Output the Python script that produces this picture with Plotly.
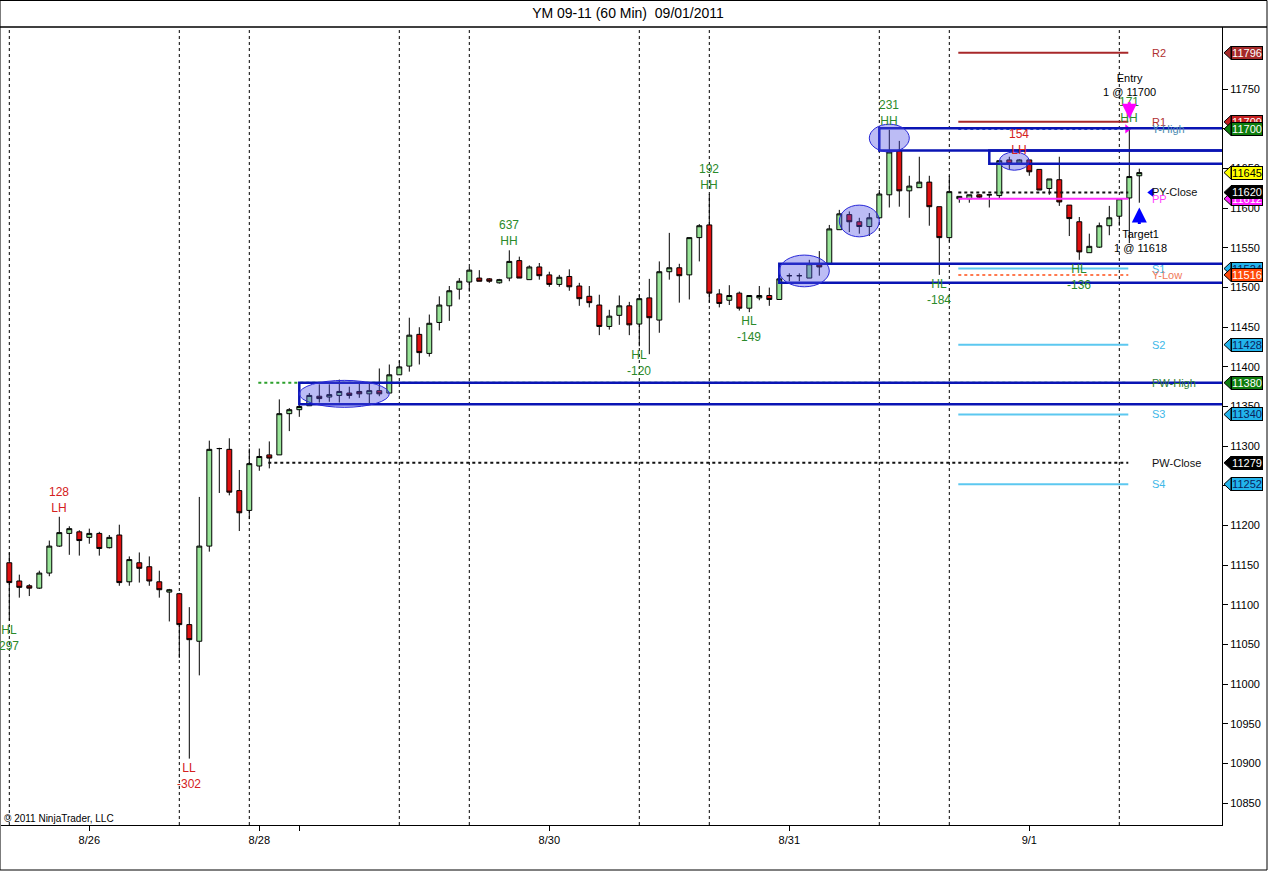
import plotly.graph_objects as go

# YM 09-11, 60 minute bars, 8/26 - 9/1
bar_open = [11153, 11130, 11124, 11121, 11140, 11174, 11190, 11192, 11185, 11190,
            11172, 11188, 11129, 11153, 11148, 11129, 11116, 11114, 11075, 11054,
            11174, 11297, 11296, 11244, 11219, 11275, 11289, 11289, 11341, 11346,
            11351, 11363, 11362, 11364, 11367, 11369, 11366, 11370, 11367, 11390,
            11401, 11441, 11417, 11456, 11477, 11498, 11507, 11512, 11511, 11506,
            11512, 11534, 11510, 11526, 11516, 11504, 11514, 11502, 11489, 11478,
            11451, 11465, 11477, 11454, 11487, 11459, 11520, 11525, 11516, 11563,
            11579, 11492, 11484, 11493, 11474, 11487, 11490, 11485, 11515, 11515,
            11512, 11530, 11530, 11573, 11592, 11583, 11577, 11588, 11617, 11673,
            11622, 11626, 11633, 11602, 11563, 11612, 11612, 11617, 11617, 11616,
            11661, 11657, 11661, 11649, 11625, 11636, 11604, 11583, 11544, 11551,
            11578, 11590, 11613, 11641]
bar_high = [11166, 11138, 11126, 11143, 11181, 11211, 11199, 11194, 11196, 11192,
            11188, 11201, 11161, 11166, 11161, 11143, 11120, 11115, 11097, 11236,
            11307, 11298, 11310, 11270, 11297, 11297, 11306, 11359, 11348, 11352,
            11367, 11378, 11378, 11384, 11375, 11380, 11380, 11398, 11403, 11408,
            11462, 11450, 11466, 11489, 11502, 11512, 11526, 11522, 11512, 11511,
            11547, 11539, 11528, 11531, 11520, 11516, 11523, 11506, 11502, 11491,
            11472, 11490, 11482, 11491, 11511, 11533, 11569, 11530, 11563, 11580,
            11618, 11498, 11503, 11495, 11490, 11502, 11500, 11511, 11518, 11518,
            11535, 11546, 11579, 11598, 11596, 11588, 11594, 11623, 11699, 11685,
            11641, 11665, 11641, 11602, 11641, 11615, 11617, 11618, 11617, 11660,
            11665, 11662, 11661, 11649, 11637, 11665, 11604, 11589, 11568, 11582,
            11603, 11612, 11702, 11650]
bar_low = [11080, 11109, 11111, 11120, 11136, 11173, 11163, 11162, 11177, 11162,
           11171, 11124, 11124, 11128, 11124, 11109, 11079, 11033, 10906, 11011,
           11167, 11241, 11238, 11193, 11208, 11269, 11272, 11289, 11319, 11337,
           11351, 11355, 11356, 11355, 11360, 11361, 11352, 11363, 11367, 11390,
           11394, 11403, 11413, 11446, 11458, 11485, 11495, 11508, 11506, 11505,
           11508, 11512, 11510, 11510, 11501, 11501, 11496, 11477, 11475, 11440,
           11447, 11453, 11440, 11426, 11416, 11443, 11510, 11481, 11485, 11533,
           11481, 11475, 11478, 11471, 11469, 11484, 11477, 11485, 11508, 11508,
           11512, 11515, 11530, 11573, 11570, 11568, 11565, 11588, 11601, 11602,
           11588, 11626, 11578, 11516, 11558, 11607, 11607, 11612, 11601, 11612,
           11649, 11655, 11641, 11623, 11617, 11603, 11565, 11535, 11544, 11550,
           11566, 11578, 11556, 11607]
bar_close = [11128, 11122, 11121, 11140, 11174, 11191, 11196, 11181, 11190, 11171,
             11185, 11128, 11157, 11146, 11130, 11119, 11119, 11075, 11056, 11174,
             11296, 11297, 11242, 11216, 11278, 11287, 11285, 11341, 11346, 11350,
             11364, 11360, 11365, 11369, 11364, 11366, 11370, 11366, 11390, 11400,
             11440, 11418, 11455, 11478, 11496, 11508, 11522, 11508, 11508, 11510,
             11533, 11512, 11526, 11515, 11504, 11513, 11501, 11486, 11481, 11451,
             11464, 11477, 11453, 11486, 11462, 11520, 11525, 11515, 11563, 11578,
             11493, 11480, 11490, 11474, 11490, 11490, 11485, 11511, 11515, 11515,
             11530, 11526, 11574, 11593, 11583, 11577, 11588, 11618, 11671, 11622,
             11628, 11633, 11602, 11563, 11621, 11615, 11617, 11614, 11617, 11660,
             11656, 11661, 11646, 11623, 11637, 11608, 11587, 11545, 11552, 11578,
             11588, 11612, 11640, 11645]
bars = list(range(len(bar_open)))

session_bars = [0, 17, 24, 39, 46, 63, 70, 87, 94, 111]
date_ticks = [8, 25, 29, 54, 78, 102]
date_labels = ["8/26", "8/28", "", "8/30", "8/31", "9/1"]
price_ticks = list(range(10850, 11751, 50))

# pivots drawn by the indicator
pivot_names = ["R2", "R1", "Y-High", "PY-Close", "PP", "S1", "Y-Low", "S2",
               "PW-High", "S3", "PW-Close", "S4"]
pivot_levels = [11796, 11709, 11700, 11620, 11612, 11524, 11516, 11428,
                11380, 11340, 11279, 11252]
pivot_start = [95, 95, 95, 95, 95, 95, 95, 95, 25, 95, 26, 95]
pivot_end = 112
pivot_colors = ["#a8282a", "#a8282a", "#2a5fc0", "#111111", "#ff30ff", "#5cc8f0",
                "#ff7a50", "#5cc8f0", "#2ca02c", "#5cc8f0", "#111111", "#5cc8f0"]
pivot_dash = ["solid", "solid", "dot", "dot", "solid", "solid", "dot", "solid",
              "dot", "solid", "dot", "solid"]
label_colors = ["#b03030", "#b03030", "#4a8ab0", "#111111", "#ff40ff", "#40b8e8",
                "#f07a5a", "#40b8e8", "#2e7d32", "#40b8e8", "#111111", "#40b8e8"]

# price markers on the right axis (drawn in this order)
tag_prices = [11796, 11709, 11700, 11645, 11612, 11620, 11524, 11516, 11428,
              11380, 11340, 11279, 11252]
tag_fill = ["#a52a2a", "#c42020", "#0f7d0f", "#ffff00", "#ff20ff", "#000000",
            "#22b4ec", "#ff4a0a", "#22b4ec", "#0f7d0f", "#22b4ec", "#000000",
            "#22b4ec"]
tag_font = ["white", "white", "white", "black", "white", "white", "#0a1f5c",
            "white", "#0a1f5c", "white", "#0a1f5c", "white", "#0a1f5c"]

# swing labels
swing_bar = [0, 5, 18, 50, 63, 70, 74, 88, 93, 101, 107, 112]
swing_kind = ["HL", "LH", "LL", "HH", "HL", "HH", "HL", "HH", "HL", "LH", "HL", "HH"]
swing_size = ["297", "128", "-302", "637", "-120", "192", "-149", "231", "-184",
              "154", "-136", "171"]

# hand drawn zones: (first bar, low, high)
box_start = [29, 77, 87, 98]
box_low = [11353, 11506, 11673, 11656]
box_high = [11380, 11530, 11701, 11673]
# ellipses: (bar from, bar to, low, high)
ell_x0 = [29, 77, 83, 86, 99]
ell_x1 = [38, 82, 87, 90, 102]
ell_low = [11349, 11501, 11564, 11671, 11648]
ell_high = [11383, 11541, 11604, 11706, 11671]

FONT = "Liberation Sans, Arial, sans-serif"

fig = go.Figure()
fig.add_trace(go.Candlestick(
    x=bars, open=bar_open, high=bar_high, low=bar_low, close=bar_close,
    increasing=dict(fillcolor="#98e498", line=dict(color="black", width=1)),
    decreasing=dict(fillcolor="#e01010", line=dict(color="black", width=1)),
    whiskerwidth=0, hoverinfo="skip", showlegend=False))

# entry / exit markers
exec_x = [111.8, 114.2]
exec_y = [11700, 11620]
fig.add_trace(go.Scatter(
    x=exec_x, y=exec_y, mode="markers", showlegend=False, hoverinfo="skip",
    marker=dict(symbol=["triangle-right", "triangle-left"], size=8,
                color=["#ff00ff", "#0000ff"])))

shapes = []
for b in session_bars:
    shapes.append(dict(type="line", xref="x", yref="paper", x0=b, x1=b, y0=0, y1=1,
                       line=dict(color="black", width=1, dash="dot"), layer="below"))

for name, lvl, s, col, dsh in zip(pivot_names, pivot_levels, pivot_start,
                                   pivot_colors, pivot_dash):
    shapes.append(dict(type="line", xref="x", yref="y", x0=s - 0.1, x1=pivot_end - 0.1,
                       y0=lvl, y1=lvl, line=dict(color=col, width=2, dash=dsh),
                       layer="above"))

for b, lo, hi in zip(box_start, box_low, box_high):
    shapes.append(dict(type="rect", xref="x", yref="y", x0=b, x1=140, y0=lo, y1=hi,
                       line=dict(color="#0a14b4", width=2.5), layer="above"))

for a, b, lo, hi in zip(ell_x0, ell_x1, ell_low, ell_high):
    shapes.append(dict(type="circle", xref="x", yref="y", x0=a, x1=b, y0=lo, y1=hi,
                       fillcolor="rgba(80,80,230,0.38)",
                       line=dict(color="#2828d8", width=1), layer="above"))

# price tag pointers
tip, base = (1224 - 1) / 1221, (1231 - 1) / 1221
for p, c in zip(tag_prices, tag_fill):
    shapes.append(dict(type="path", xref="paper", yref="y",
                       path=f"M {tip},{p} L {base},{p + 8.2} L {base},{p - 8.2} Z",
                       fillcolor=c, line=dict(color="black", width=1), layer="above"))

# frame
shapes.append(dict(type="rect", xref="paper", yref="paper",
                   x0=-0.0008, x1=(1267 - 1) / 1221, y0=(825 - 870) / 798,
                   y1=(825 - 0.5) / 798, line=dict(color="black", width=1)))
shapes.append(dict(type="line", xref="paper", yref="paper", x0=-0.001,
                   x1=(1267 - 1) / 1221, y0=1, y1=1,
                   line=dict(color="black", width=1.5)))

ann = []
for b, k, sz in zip(swing_bar, swing_kind, swing_size):
    col = "#2a8a2a" if k in ("HH", "HL") else "#d42020"
    if k in ("HH", "LH"):
        ann.append(dict(x=b, y=bar_high[b], text=f"{sz}<br>{k}", yanchor="bottom",
                        showarrow=False, font=dict(color=col, size=12)))
    else:
        ann.append(dict(x=b, y=bar_low[b], text=f"{k}<br>{sz}", yanchor="top",
                        showarrow=False, font=dict(color=col, size=12)))

for name, lvl, col in zip(pivot_names, pivot_levels, label_colors):
    ann.append(dict(x=114.1, y=lvl, text=name, xanchor="left", yanchor="middle",
                    showarrow=False, font=dict(color=col, size=11)))

for p, c, fc in zip(tag_prices, tag_fill, tag_font):
    ann.append(dict(xref="paper", x=(1246.5 - 1) / 1221, xanchor="center", y=p,
                    yanchor="middle", text=str(p), showarrow=False, bgcolor=c,
                    bordercolor="black", borderwidth=1, borderpad=0, width=30,
                    height=12, font=dict(color=fc, size=11)))

ann.append(dict(x=112, y=11736, text="Entry<br>1 @ 11700", yanchor="bottom",
                showarrow=False, font=dict(color="black", size=11)))
ann.append(dict(x=113.1, y=11578, text="Target1<br>1 @ 11618", yanchor="top",
                showarrow=False, font=dict(color="black", size=11)))
ann.append(dict(x=112, y=11713, ax=0, ay=-18, text="", showarrow=True, arrowhead=2,
                arrowsize=1, arrowwidth=3, arrowcolor="#ff00ff"))
ann.append(dict(x=113, y=11601, ax=0, ay=18, text="", showarrow=True, arrowhead=2,
                arrowsize=1, arrowwidth=3, arrowcolor="#0000ff"))
ann.append(dict(xref="paper", yref="paper", x=0.0005, y=(825 - 818) / 798,
                text="© 2011 NinjaTrader, LLC", xanchor="left", yanchor="middle",
                showarrow=False, font=dict(color="black", size=10)))

fig.update_layout(
    width=1272, height=871,
    margin=dict(l=1, r=50, t=27, b=46),
    paper_bgcolor="white", plot_bgcolor="white",
    font=dict(family=FONT, color="black", size=11),
    title=dict(text="YM 09-11 (60 Min)\u00a0 09/01/2011", x=628 / 1272, xref="container",
               xanchor="center", y=1 - 13 / 871, yanchor="middle",
               font=dict(size=14, color="black")),
    shapes=shapes, annotations=ann,
    showlegend=False,
    xaxis=dict(range=[-0.83, 121.27], showgrid=False, zeroline=False,
               tickvals=date_ticks, ticktext=date_labels, ticks="outside", ticklen=5,
               tickcolor="black", showline=True, linecolor="black", linewidth=1,
               rangeslider=dict(visible=False), fixedrange=True,
               tickfont=dict(size=11)),
    yaxis=dict(range=[10822.3, 11828.6], side="right", showgrid=False, zeroline=False,
               tickvals=price_ticks, ticks="outside", ticklen=5, tickcolor="black",
               showline=True, linecolor="black", linewidth=1, tickformat="d",
               tickfont=dict(size=11)),
)

# page body has a default 8px margin; drop it so the chart sits at the corner
fig.write_html("out.html", config={"displayModeBar": False},
               post_script="document.body.style.margin='0';")
